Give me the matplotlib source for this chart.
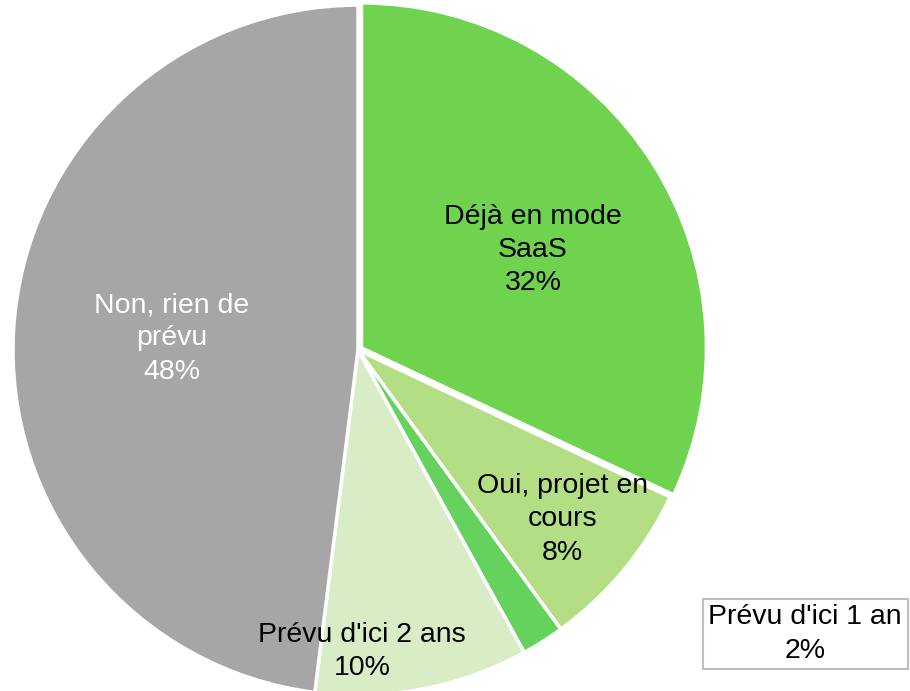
import numpy as np
import matplotlib.pyplot as plt

plt.rcParams['font.family'] = ['Liberation Sans', 'DejaVu Sans']

labels = ["Déjà en mode\nSaaS", "Oui, projet en\ncours", "Prévu d'ici 1 an",
          "Prévu d'ici 2 ans", "Non, rien de\nprévu"]
values = [32, 8, 2, 10, 48]
colors = ["#70D350", "#B3DE84", "#66D25E", "#D8EDC6", "#A6A6A6"]
text_colors = ["black", "black", "black", "black", "white"]

fig = plt.figure(figsize=(9.1, 6.91), dpi=100)
ax = fig.add_axes([0.01429, -0.006, 0.7582, 0.9986])

wedges, _ = ax.pie(values, colors=colors, startangle=90, counterclock=False,
                   explode=[0.012, 0, 0, 0, 0],
                   wedgeprops=dict(edgecolor="white", linewidth=2.5))
ax.set_xlim(-1, 1)
ax.set_ylim(-1, 1)
ax.set_aspect("equal")
ax.axis("off")

fs = 20.5
ls = 1.36
# label radius per slice; some labels are nudged by hand
radii = [0.58, 0.77, None, 0.875, 0.54]
nudge = {0: (0.507, 0.29), 3: (0.012, -0.874)}
for i, (w, lab, v, r, tc) in enumerate(zip(wedges, labels, values, radii,
                                           text_colors)):
    txt = f"{lab}\n{v}%"
    mid = np.deg2rad((w.theta1 + w.theta2) / 2)
    if r is None:
        # thin slice: label sits in a box outside the pie
        ax.text(1.296, -0.823, txt, ha="center", va="center", fontsize=fs,
                color=tc, linespacing=ls,
                bbox=dict(boxstyle="square,pad=0.2", facecolor="white",
                          edgecolor="#BFBFBF", linewidth=1.5))
        continue
    x, y = nudge.get(i, (r * np.cos(mid), r * np.sin(mid)))
    ax.text(x, y, txt, ha="center", va="center", fontsize=fs, color=tc,
            linespacing=ls)

fig.savefig("out.png", dpi=100)
